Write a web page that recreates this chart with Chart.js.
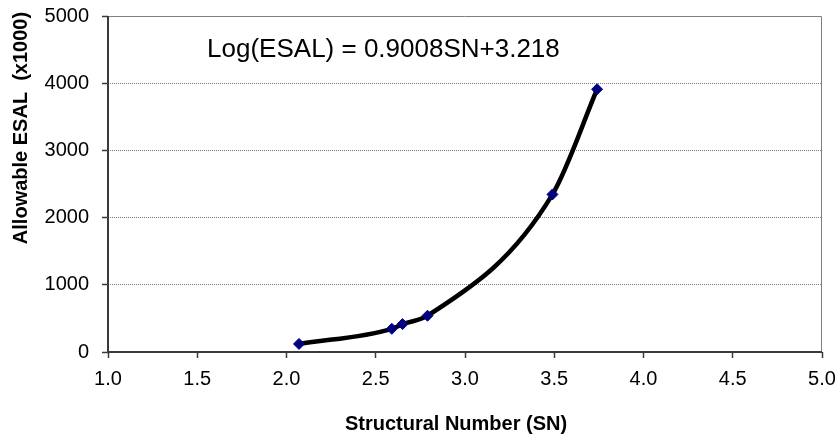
<!DOCTYPE html>
<html>
<head>
<meta charset="utf-8">
<script src="https://cdn.jsdelivr.net/npm/chart.js@4.4.1/dist/chart.umd.min.js"></script>
<style>
  html, body { margin: 0; padding: 0; background: #fff; }
  #wrap { width: 840px; height: 440px; }
</style>
</head>
<body>
<div id="wrap"><canvas id="chart" width="840" height="440"></canvas></div>
<script>
// structural number vs allowable ESAL (thousands)
const snValues = [2.07, 2.59, 2.65, 2.79, 3.49, 3.74];
const esalValues = [120, 345, 415, 540, 2345, 3910];

const xTickValues = [1.0, 1.5, 2.0, 2.5, 3.0, 3.5, 4.0, 4.5, 5.0];
const yTickValues = [0, 1000, 2000, 3000, 4000, 5000];

const xTitle = 'Structural Number (SN)';
const yTitle = 'Allowable ESAL  (x1000)';
const equationText = 'Log(ESAL) = 0.9008SN+3.218';
// where the equation label sits, in data units (left edge, baseline)
const equationAt = { x: 1.555, y: 4385 };

const FONT = '"Liberation Sans", Arial, Helvetica, sans-serif';

const points = snValues.map((x, i) => ({ x, y: esalValues[i] }));

// plot frame, axis titles and the equation label
const decorations = {
  id: 'decorations',
  beforeDatasetsDraw(chart) {
    const { ctx, chartArea: a } = chart;
    ctx.save();
    ctx.strokeStyle = '#808080';
    ctx.lineWidth = 1;
    ctx.beginPath();
    ctx.moveTo(a.left, a.top + 0.5);
    ctx.lineTo(a.right - 0.5, a.top + 0.5);
    ctx.lineTo(a.right - 0.5, a.bottom);
    ctx.stroke();

    ctx.strokeStyle = '#3a3a3a';
    ctx.lineWidth = 2;
    ctx.beginPath();
    ctx.moveTo(a.left, a.top);
    ctx.lineTo(a.left, a.bottom);
    ctx.lineTo(a.right, a.bottom);
    ctx.stroke();
    ctx.restore();
  },
  afterDraw(chart) {
    const { ctx, chartArea: a, scales } = chart;
    ctx.save();
    ctx.fillStyle = '#000';

    ctx.font = 'bold 20px ' + FONT;
    ctx.textAlign = 'center';
    ctx.textBaseline = 'middle';
    ctx.fillText(xTitle, (a.left + a.right) / 2 - 9, 424);

    ctx.save();
    ctx.translate(21, 128);
    ctx.rotate(-Math.PI / 2);
    ctx.font = 'bold 20px ' + FONT;
    ctx.fillText(yTitle, 0, 0);
    ctx.restore();

    ctx.font = '26px ' + FONT;
    ctx.textAlign = 'left';
    ctx.textBaseline = 'alphabetic';
    ctx.fillText(equationText,
      scales.x.getPixelForValue(equationAt.x),
      scales.y.getPixelForValue(equationAt.y));
    ctx.restore();
  }
};

new Chart(document.getElementById('chart'), {
  type: 'scatter',
  data: {
    datasets: [{
      data: points,
      showLine: true,
      borderColor: '#000',
      borderWidth: 4.5,
      cubicInterpolationMode: 'monotone',
      pointStyle: 'rectRot',
      pointRadius: 5.5,
      pointBackgroundColor: '#000080',
      pointBorderColor: '#000080',
      pointBorderWidth: 1
    }]
  },
  options: {
    responsive: false,
    animation: false,
    layout: { padding: { top: 16, right: 18, left: 0, bottom: 0 } },
    plugins: {
      legend: { display: false },
      tooltip: { enabled: false }
    },
    scales: {
      x: {
        type: 'linear',
        min: 1,
        max: 5,
        afterBuildTicks: s => { s.ticks = xTickValues.map(v => ({ value: v })); },
        afterFit: s => { s.height = 88; s.paddingLeft = 0; s.paddingRight = 0; },
        ticks: {
          color: '#000',
          font: { family: FONT, size: 20 },
          padding: 9,
          maxRotation: 0,
          callback: v => Number(v).toFixed(1)
        },
        grid: {
          drawOnChartArea: false,
          tickLength: 6,
          tickColor: '#3a3a3a',
          tickWidth: 1.5,
          tickBorderDash: []
        },
        border: { display: false }
      },
      y: {
        type: 'linear',
        min: 0,
        max: 5000,
        afterBuildTicks: s => { s.ticks = yTickValues.map(v => ({ value: v })); },
        afterFit: s => { s.width = 108; s.paddingTop = 0; s.paddingBottom = 0; },
        ticks: {
          color: '#000',
          font: { family: FONT, size: 20 },
          padding: 13,
          callback: v => String(v)
        },
        grid: {
          color: c => (c.tick && (c.tick.value === 0 || c.tick.value === 5000)) ? 'rgba(0,0,0,0)' : '#7a7a7a',
          lineWidth: 1,
          tickLength: 6,
          tickColor: '#3a3a3a',
          tickWidth: 1.5,
          tickBorderDash: []
        },
        border: { display: false, dash: [1, 1] }
      }
    }
  },
  plugins: [decorations]
});
</script>
</body>
</html>
